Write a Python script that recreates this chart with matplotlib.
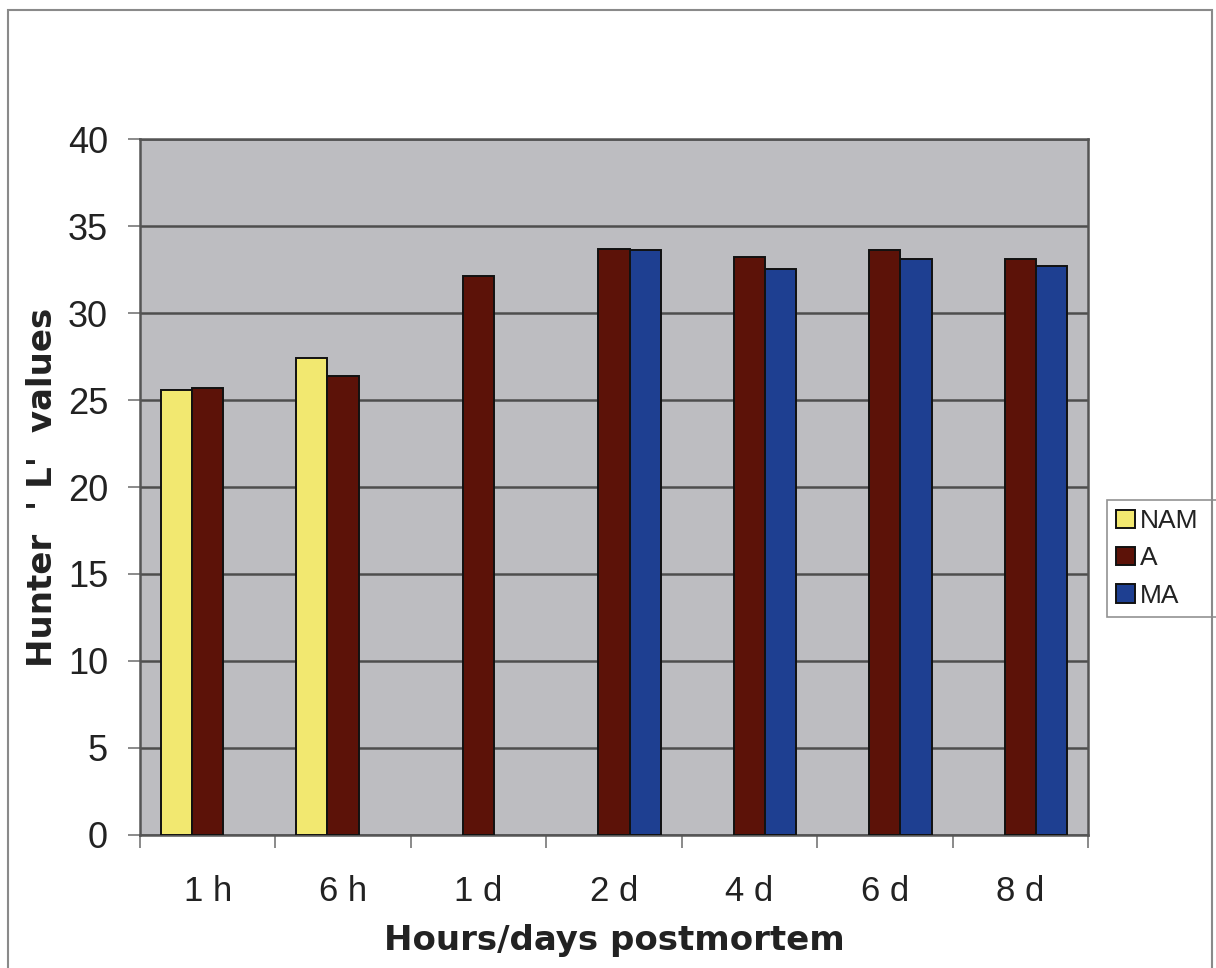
import numpy as np
import matplotlib
matplotlib.use("Agg")
import matplotlib.pyplot as plt
from matplotlib.patches import Rectangle

plt.rcParams['font.family'] = ['Liberation Sans', 'DejaVu Sans']

categories = ["1 h", "6 h", "1 d", "2 d", "4 d", "6 d", "8 d"]
series_names = ["NAM", "A", "MA"]
nam = [25.6, 27.4, np.nan, np.nan, np.nan, np.nan, np.nan]
a = [25.7, 26.4, 32.1, 33.65, 33.2, 33.6, 33.1]
ma = [np.nan, np.nan, np.nan, 33.6, 32.55, 33.1, 32.7]
colors = ["#F2E870", "#5C1208", "#1E3F91"]

fig = plt.figure(figsize=(12.16, 9.68), dpi=100)
ax = fig.add_axes([0.1151, 0.1374, 0.7796, 0.7190])

x = np.arange(len(categories))
width = 0.231
for i, (vals, col, name) in enumerate(zip([nam, a, ma], colors, series_names)):
    ax.bar(x + (i - 1) * width, vals, width, color=col, edgecolor="#111111",
           linewidth=1.4, label=name, zorder=3)

ax.set_facecolor("#BDBDC1")
ax.set_xlim(-0.5, len(categories) - 0.5)
ax.set_ylim(0, 40)
ax.set_yticks(np.arange(0, 41, 5))
ax.yaxis.grid(True, color="#4E4E4E", linewidth=1.8, zorder=1)
ax.set_axisbelow(True)

# category boundaries carry the x ticks, labels sit at centres
ax.set_xticks(np.arange(-0.5, len(categories), 1.0))
ax.set_xticklabels([])
ax.set_xticks(x, minor=True)
ax.set_xticklabels(categories, minor=True)
ax.tick_params(axis="x", which="major", direction="out", length=9, width=1.2,
               color="#777777")
ax.tick_params(axis="x", which="minor", length=0, pad=29, labelsize=25,
               labelcolor="#222222")
ax.tick_params(axis="y", direction="out", length=9, width=1.2, color="#777777",
               labelsize=26, labelcolor="#222222", pad=14)

for side in ["left", "bottom", "top", "right"]:
    ax.spines[side].set_color("#555555")
    ax.spines[side].set_linewidth(1.8)

label_font = dict(family="DejaVu Sans", fontsize=24.5, fontweight="bold",
                  color="#222222")
ax.set_xlabel("Hours/days postmortem", labelpad=11, **label_font)
ax.set_ylabel("Hunter  ' L'  values", labelpad=6, **label_font)

leg = ax.legend(loc="center left", bbox_to_anchor=(1.020, 0.309, 0.118, 0.177),
                mode="expand", fontsize=19, frameon=True, fancybox=False,
                handlelength=0.7, handleheight=0.7, handletextpad=0.2,
                labelspacing=0.5, borderpad=0.35, borderaxespad=0)
leg.get_frame().set_edgecolor("#777777")
leg.get_frame().set_linewidth(1.2)
for t in leg.get_texts():
    t.set_color("#222222")

# outer chart frame
fig.patches.append(Rectangle((8 / 1216, -0.01), 1204 / 1216, 1 - 10 / 968 + 0.01,
                             transform=fig.transFigure, fill=False,
                             edgecolor="#8A8A8A", linewidth=1.5))

fig.savefig("out.png", dpi=100, facecolor="white")
